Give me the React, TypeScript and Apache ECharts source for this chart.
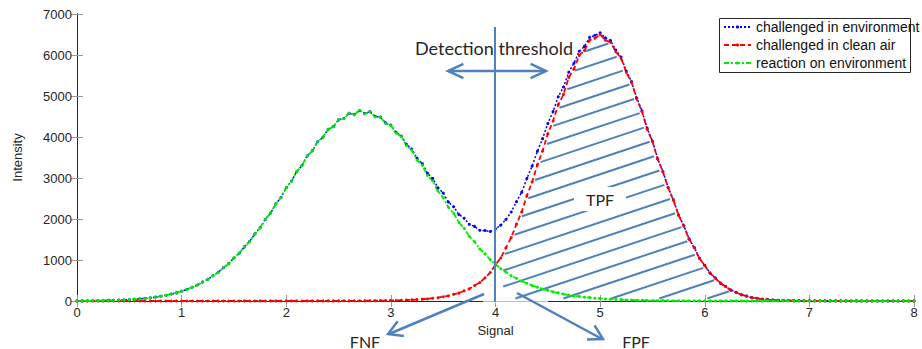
import React, { useEffect, useRef } from "react";
import * as echarts from "echarts";

// Sample positions along the Signal axis (0 .. 8, every 0.05)
const SIGNAL: number[] = Array.from({ length: 161 }, (_, i) => Math.round(i * 5) / 100);

const X_TICK_INTERVAL = 1;
const Y_TICK_INTERVAL = 1000;

const SERIES_NAMES = [
  "challenged in environment",
  "challenged in clean air",
  "reaction on environment",
];

// Intensity, one value per SIGNAL sample
const BLUE: number[] = [
  3, 3, 5, 5, 9, 9, 15, 17, 22, 27,
  35, 41, 52, 63, 79, 95, 116, 138, 170, 198,
  239, 280, 335, 390, 460, 528, 616, 700, 812, 912,
  1048, 1162, 1320, 1452, 1636, 1786, 1990, 2146, 2366, 2526,
  2762, 2920, 3154, 3304, 3536, 3668, 3884, 3992, 4186, 4254,
  4418, 4452, 4576, 4551, 4648, 4571, 4618, 4502, 4486, 4345,
  4290, 4115, 4025, 3818, 3705, 3480, 3350, 3115, 2990, 2760,
  2635, 2415, 2300, 2110, 2020, 1870, 1820, 1725, 1720, 1695,
  1760, 1850, 1990, 2170, 2420, 2650, 2990, 3290, 3650, 3960,
  4330, 4620, 4980, 5220, 5580, 5800, 6090, 6210, 6430, 6480,
  6540, 6420, 6350, 6120, 5950, 5610, 5350, 4950, 4640, 4210,
  3900, 3470, 3160, 2770, 2470, 2095, 1835, 1515, 1305, 1040,
  868, 683, 563, 436, 354, 268, 212, 153, 120, 84,
  66, 45, 36, 24, 19, 13, 12, 8, 8, 6,
  6, 5, 4, 4, 3, 4, 3, 3, 2, 3,
  2, 2, 2, 2, 1, 2, 2, 1, 2, 1,
  2,
];

const RED: number[] = [
  0, 1, 0, 1, 1, 0, 1, 1, 0, 1,
  1, 0, 1, 1, 1, 0, 1, 1, 1, 1,
  1, 1, 0, 1, 1, 1, 1, 2, 1, 1,
  1, 1, 2, 1, 1, 2, 1, 2, 2, 1,
  2, 2, 2, 1, 2, 2, 3, 2, 3, 3,
  3, 4, 3, 5, 4, 6, 7, 7, 10, 10,
  13, 14, 20, 22, 29, 34, 45, 51, 68, 80,
  105, 124, 162, 192, 248, 296, 378, 450, 565, 695,
  885, 1050, 1300, 1545, 1875, 2170, 2570, 2900, 3320, 3660,
  4080, 4390, 4790, 5040, 5450, 5660, 5990, 6110, 6360, 6410,
  6500, 6360, 6310, 6080, 5920, 5580, 5330, 4930, 4620, 4190,
  3890, 3460, 3150, 2760, 2460, 2090, 1830, 1510, 1300, 1035,
  865, 680, 560, 432, 352, 265, 210, 150, 118, 82,
  64, 43, 34, 22, 17, 11, 10, 6, 6, 4,
  4, 3, 2, 3, 2, 2, 1, 2, 1, 2,
  1, 1, 1, 1, 0, 1, 1, 0, 1, 0,
  1,
];

const GREEN: number[] = [
  3, 2, 5, 4, 8, 9, 14, 16, 22, 26,
  34, 40, 53, 62, 80, 93, 118, 136, 172, 196,
  241, 276, 338, 386, 463, 524, 620, 695, 815, 908,
  1052, 1158, 1326, 1447, 1640, 1780, 1995, 2140, 2372, 2520,
  2768, 2915, 3160, 3298, 3541, 3662, 3890, 3985, 4190, 4248,
  4420, 4445, 4580, 4540, 4650, 4560, 4615, 4490, 4480, 4330,
  4280, 4095, 4010, 3790, 3680, 3440, 3310, 3060, 2925, 2675,
  2525, 2285, 2140, 1915, 1775, 1575, 1445, 1270, 1150, 1005,
  900, 785, 705, 615, 555, 480, 434, 376, 338, 292,
  260, 222, 198, 168, 148, 125, 111, 93, 83, 68,
  61, 50, 45, 36, 33, 26, 24, 19, 18, 13,
  12, 10, 9, 7, 7, 5, 6, 4, 5, 3,
  4, 3, 2, 3, 2, 2, 3, 2, 1, 2,
  2, 1, 2, 1, 1, 2, 1, 1, 1, 2,
  1, 1, 1, 0, 1, 1, 1, 0, 1, 1,
  0, 1, 0, 1, 1, 0, 1, 0, 0, 1,
  0,
];

// Hatched region (TPF): to the right of the threshold, under the clean-air curve
const THRESHOLD = 4;
const HATCH_START = 4.05;
const HATCH_BASE = 40;

const ANNOT = "#4F81BD";
const SANS = "'Liberation Sans', Arial, sans-serif";
const CAL = "Lato, 'Open Sans', sans-serif";

function head(tx: number, ty: number, fx: number, fy: number, len: number, angDeg: number) {
  const dx = fx - tx;
  const dy = fy - ty;
  const d = Math.hypot(dx, dy);
  const ux = dx / d;
  const uy = dy / d;
  const a = (angDeg * Math.PI) / 180;
  const r1 = [ux * Math.cos(a) - uy * Math.sin(a), ux * Math.sin(a) + uy * Math.cos(a)];
  const r2 = [ux * Math.cos(-a) - uy * Math.sin(-a), ux * Math.sin(-a) + uy * Math.cos(-a)];
  return {
    type: "polyline",
    z: 6,
    shape: {
      points: [
        [tx + r1[0] * len, ty + r1[1] * len],
        [tx, ty],
        [tx + r2[0] * len, ty + r2[1] * len],
      ],
    },
    style: { stroke: ANNOT, lineWidth: 2.5, fill: null },
  };
}

function arrowLine(x1: number, y1: number, x2: number, y2: number) {
  return {
    type: "line",
    z: 6,
    shape: { x1, y1, x2, y2 },
    style: { stroke: ANNOT, lineWidth: 2.5 },
  };
}

export default function App() {
  const ref = useRef<HTMLDivElement>(null);

  useEffect(() => {
    if (!ref.current) return;
    const chart = echarts.init(ref.current, null, { renderer: "svg" });
    const mk = (ys: number[]) => SIGNAL.map((x, i) => [x, ys[i]]);

    const hatchRender = (_params: any, api: any) => {
      const poly: number[][] = [];
      poly.push(api.coord([HATCH_START, HATCH_BASE]));
      for (let i = 0; i < SIGNAL.length; i++) {
        if (SIGNAL[i] < HATCH_START - 1e-9) continue;
        if (RED[i] < HATCH_BASE) {
          poly.push(api.coord([SIGNAL[i], HATCH_BASE]));
          break;
        }
        poly.push(api.coord([SIGNAL[i], RED[i]]));
      }
      const S = 1 / 3; // lines rise to the right, dy/dx = -1/3 in pixels
      const children: any[] = [];
      const inset = 2.5;
      for (let c = 422.3 - 16 * 14; c < 600; c += 16) {
        const xs: number[] = [];
        for (let k = 0; k < poly.length; k++) {
          const p = poly[k];
          const q = poly[(k + 1) % poly.length];
          const up = p[1] + p[0] * S;
          const uq = q[1] + q[0] * S;
          if (up <= c !== uq <= c) {
            const t = (c - up) / (uq - up);
            xs.push(p[0] + t * (q[0] - p[0]));
          }
        }
        xs.sort((a, b) => a - b);
        for (let k = 0; k + 1 < xs.length; k += 2) {
          const xa = xs[k] + inset;
          const xb = xs[k + 1] - inset;
          if (xb - xa < 5) continue;
          children.push({
            type: "line",
            shape: { x1: xa, y1: c - xa * S, x2: xb, y2: c - xb * S },
            style: { stroke: ANNOT, lineWidth: 2 },
          });
        }
      }
      return { type: "group", children };
    };

    const axisLabel = { fontFamily: SANS, fontSize: 13, color: "#262626" };
    const tick = { show: true, inside: true, length: 6, lineStyle: { color: "#9a9a9a" } };
    const axisLine = { show: true, lineStyle: { color: "#262626", width: 1 } };

    chart.setOption({
      animation: false,
      backgroundColor: "#ffffff",
      grid: { left: 77, right: 8, top: 14, bottom: 48, containLabel: false },
      legend: {
        data: SERIES_NAMES,
        orient: "vertical",
        left: 723,
        top: 18,
        padding: 0,
        itemWidth: 27,
        itemHeight: 4,
        itemGap: 0,
        selectedMode: false,
        textStyle: { fontFamily: SANS, fontSize: 14, color: "#111", lineHeight: 18, padding: [0, 0, 0, 0] },
      },
      xAxis: [
        {
          type: "value",
          min: 0,
          max: 8,
          interval: X_TICK_INTERVAL,
          name: "Signal",
          nameLocation: "middle",
          nameGap: 20,
          nameTextStyle: { fontFamily: SANS, fontSize: 13, color: "#262626" },
          axisLine,
          axisTick: tick,
          axisLabel: { ...axisLabel, margin: 5, formatter: (v: number) => String(v) },
          splitLine: { show: false },
        },
        {
          type: "value",
          position: "top",
          min: 0,
          max: 8,
          interval: X_TICK_INTERVAL,
          axisLine,
          axisTick: tick,
          axisLabel: { show: false },
          splitLine: { show: false },
        },
      ],
      yAxis: [
        {
          type: "value",
          min: 0,
          max: 7000,
          interval: Y_TICK_INTERVAL,
          name: "Intensity",
          nameLocation: "middle",
          nameGap: 53,
          nameTextStyle: { fontFamily: SANS, fontSize: 13, color: "#262626" },
          axisLine,
          axisTick: tick,
          axisLabel: { ...axisLabel, margin: 5, formatter: (v: number) => String(v) },
          splitLine: { show: false },
        },
        {
          type: "value",
          position: "right",
          min: 0,
          max: 7000,
          interval: Y_TICK_INTERVAL,
          axisLine,
          axisTick: tick,
          axisLabel: { show: false },
          splitLine: { show: false },
        },
      ],
      series: [
        {
          name: SERIES_NAMES[0],
          type: "line",
          data: mk(BLUE),
          symbol: "circle",
          symbolSize: 3,
          showAllSymbol: true,
          color: "#0000ff",
          lineStyle: { color: "#0000ff", width: 1.5, type: [2, 2] },
          itemStyle: { color: "#0000ff" },
          silent: true,
          emphasis: { disabled: true },
        },
        {
          name: SERIES_NAMES[1],
          type: "line",
          data: mk(RED),
          symbol: "circle",
          symbolSize: 3,
          showAllSymbol: true,
          color: "#ff0000",
          lineStyle: { color: "#ff0000", width: 1.8, type: [5, 3] },
          itemStyle: { color: "#ff0000" },
          silent: true,
          emphasis: { disabled: true },
        },
        {
          name: SERIES_NAMES[2],
          type: "line",
          data: mk(GREEN),
          symbol: "circle",
          symbolSize: 3,
          showAllSymbol: true,
          color: "#00ee00",
          lineStyle: { color: "#00ee00", width: 1.8, type: [5, 2, 2, 2] },
          itemStyle: { color: "#00ee00" },
          silent: true,
          emphasis: { disabled: true },
        },
        {
          name: "TPF hatch",
          type: "custom",
          renderItem: hatchRender,
          data: [[THRESHOLD, 0]],
          encode: { x: 0, y: 1 },
          silent: true,
          z: 3,
        },
      ],
      graphic: [
        // legend box
        {
          type: "rect",
          z: 3,
          shape: { x: 719.5, y: 18.5, width: 191, height: 54 },
          style: { fill: "#ffffff", stroke: "#262626", lineWidth: 1 },
        },
        // lighter axis segment near the threshold
        {
          type: "rect",
          z: 3,
          shape: { x: 483, y: 299, width: 65, height: 4 },
          style: { fill: "rgba(255,255,255,0.7)" },
        },
        // detection threshold line
        {
          type: "line",
          z: 8,
          shape: { x1: 495, y1: 27, x2: 495, y2: 302 },
          style: { stroke: ANNOT, lineWidth: 2 },
        },
        {
          type: "text",
          z: 7,
          style: {
            x: 494,
            y: 48,
            text: "Detection threshold",
            fontFamily: CAL,
            fontSize: 18,
            fill: "#262626",
            align: "center",
            verticalAlign: "middle",
          },
        },
        arrowLine(448, 71, 546, 71),
        head(448, 71, 546, 71, 17, 25),
        head(546, 71, 448, 71, 17, 25),
        arrowLine(484, 294, 389, 334),
        head(388, 334, 484, 294, 16, 30),
        arrowLine(517, 293, 602, 339),
        head(603, 339, 517, 293, 16, 30),
        {
          type: "text",
          z: 7,
          style: {
            x: 600,
            y: 199,
            text: "TPF",
            fontFamily: CAL,
            fontSize: 16,
            fill: "#262626",
            align: "center",
            verticalAlign: "middle",
            backgroundColor: "#ffffff",
            padding: [4, 12],
          },
        },
        {
          type: "text",
          z: 7,
          style: {
            x: 365,
            y: 341,
            text: "FNF",
            fontFamily: CAL,
            fontSize: 16,
            fill: "#262626",
            align: "center",
            verticalAlign: "middle",
          },
        },
        {
          type: "text",
          z: 7,
          style: {
            x: 636,
            y: 341,
            text: "FPF",
            fontFamily: CAL,
            fontSize: 16,
            fill: "#262626",
            align: "center",
            verticalAlign: "middle",
          },
        },
      ],
    });

    return () => chart.dispose();
  }, []);

  return (
    <div
      ref={ref}
      style={{ position: "fixed", left: 0, top: 0, width: 922, height: 349 }}
    />
  );
}
